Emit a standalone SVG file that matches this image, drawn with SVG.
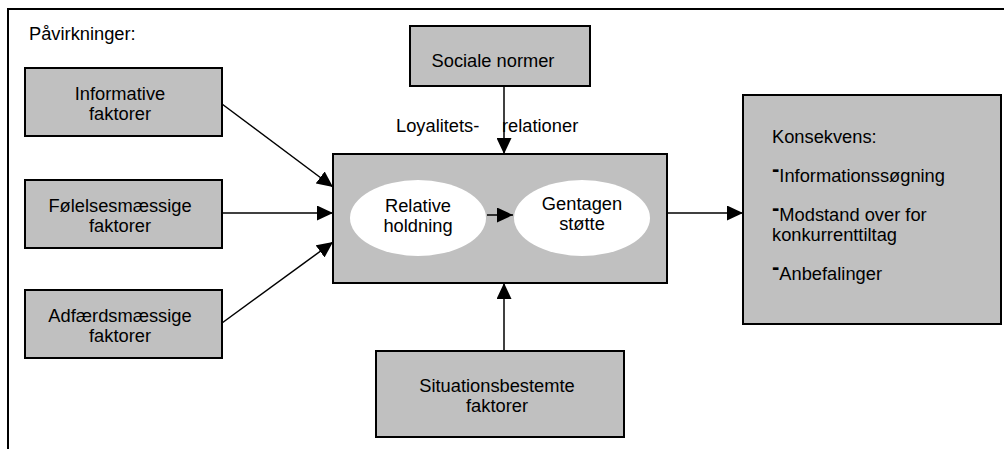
<svg xmlns="http://www.w3.org/2000/svg" width="1004" height="449" viewBox="0 0 1004 449">
  <style>
    .box { fill: #c0c0c0; stroke: #000; stroke-width: 2; }
    .oval { fill: #fff; stroke: none; }
    .t { font-family: "Liberation Sans", Arial, sans-serif; font-size: 18.3px; fill: #000; }
    .c { text-anchor: middle; }
    .dash { font-weight: bold; font-size: 22px; }
    .wire { stroke: #000; stroke-width: 1.5; fill: none; marker-end: url(#arr); }
  </style>
  <defs>
    <marker id="arr" viewBox="0 0 10 10" refX="10" refY="5" markerWidth="16" markerHeight="15" markerUnits="userSpaceOnUse" orient="auto" preserveAspectRatio="none">
      <path d="M0,0 L10,5 L0,10 z" fill="#000"/>
    </marker>
  </defs>

  <rect width="1004" height="449" fill="#fff"/>

  <!-- outer frame -->
  <g id="frame">
    <path d="M1004,9 H8 V449" stroke="#000" stroke-width="2" fill="none"/>
    <text class="t" x="29" y="40">Påvirkninger:</text>
  </g>

  <g id="informative">
    <rect class="box" x="25" y="68" width="197" height="68"/>
    <text class="t c" x="120" y="100">Informative</text>
    <text class="t c" x="120" y="120">faktorer</text>
  </g>

  <g id="foelelses">
    <rect class="box" x="25" y="180" width="197" height="68"/>
    <text class="t c" x="120" y="212">Følelsesmæssige</text>
    <text class="t c" x="120" y="232">faktorer</text>
  </g>

  <g id="adfaerd">
    <rect class="box" x="25" y="290" width="197" height="68"/>
    <text class="t c" x="120" y="322">Adfærdsmæssige</text>
    <text class="t c" x="120" y="342">faktorer</text>
  </g>

  <g id="sociale">
    <rect class="box" x="410" y="26" width="180" height="60"/>
    <text class="t c" x="493" y="67">Sociale normer</text>
  </g>

  <g id="loyalitet">
    <rect class="box" x="333" y="154" width="334" height="129"/>
    <ellipse class="oval" cx="418" cy="218" rx="68" ry="38"/>
    <ellipse class="oval" cx="582" cy="218" rx="68" ry="38"/>
    <text class="t c" x="418" y="212">Relative</text>
    <text class="t c" x="418" y="232">holdning</text>
    <text class="t c" x="582" y="210">Gentagen</text>
    <text class="t c" x="582" y="230">støtte</text>
  </g>

  <g id="situation">
    <rect class="box" x="376" y="351" width="248" height="86"/>
    <text class="t c" x="497" y="392">Situationsbestemte</text>
    <text class="t c" x="497" y="412">faktorer</text>
  </g>

  <g id="konsekvens">
    <rect class="box" x="743" y="95" width="258" height="229"/>
    <text class="t" x="772" y="143">Konsekvens:</text>
    <text class="t" x="772" y="182"><tspan class="dash" dy="-6">-</tspan><tspan dy="6">Informationssøgning</tspan></text>
    <text class="t" x="772" y="221"><tspan class="dash" dy="-6">-</tspan><tspan dy="6">Modstand over for</tspan></text>
    <text class="t" x="772" y="241">konkurrenttiltag</text>
    <text class="t" x="772" y="280"><tspan class="dash" dy="-6">-</tspan><tspan dy="6">Anbefalinger</tspan></text>
  </g>

  <g id="connectors">
    <line class="wire" x1="222" y1="104" x2="333" y2="187"/>
    <line class="wire" x1="222" y1="213" x2="333" y2="213"/>
    <line class="wire" x1="222" y1="323" x2="333" y2="242"/>
    <line class="wire" x1="504" y1="86" x2="504" y2="154"/>
    <line class="wire" x1="504" y1="351" x2="504" y2="283"/>
    <line class="wire" x1="487" y1="215" x2="513" y2="215"/>
    <line class="wire" x1="667" y1="213" x2="743" y2="213"/>
    <text class="t" x="396" y="132">Loyalitets-</text>
    <text class="t" x="502" y="132">relationer</text>
  </g>
</svg>
